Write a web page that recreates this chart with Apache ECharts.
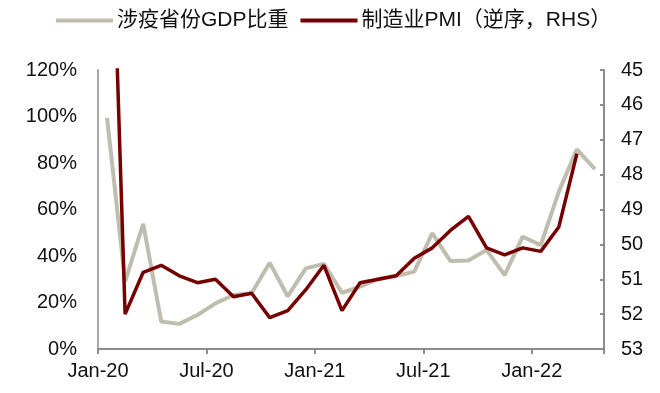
<!DOCTYPE html>
<html>
<head>
<meta charset="utf-8">
<script src="https://cdn.jsdelivr.net/npm/echarts@6/dist/echarts.min.js"></script>
<style>html,body{margin:0;padding:0;background:#fff}#c{width:660px;height:393px}</style>
</head>
<body>
<div id="c"></div>
<script>
const categories = ["Jan-20","Feb-20","Mar-20","Apr-20","May-20","Jun-20","Jul-20","Aug-20","Sep-20","Oct-20","Nov-20","Dec-20",
  "Jan-21","Feb-21","Mar-21","Apr-21","May-21","Jun-21","Jul-21","Aug-21","Sep-21","Oct-21","Nov-21","Dec-21",
  "Jan-22","Feb-22","Mar-22","Apr-22"];
const gdpShare = [99.5, 29, 53.8, 11.8, 10.8, 14.6, 19.6, 23.2, 24, 37.1, 22.6, 34.7,
  36.6, 24.2, 26.8, 30, 31.4, 33.3, 49.8, 37.8, 38.1, 42.6, 31.8, 48.3,
  44.7, 67.7, 85.9, 77.4];
const pmiInverted = [35.7, 52.0, 50.8, 50.6, 50.9, 51.1, 51.0, 51.5, 51.4, 52.1, 51.9, 51.3,
  50.6, 51.9, 51.1, 51.0, 50.9, 50.4, 50.1, 49.6, 49.2, 50.1, 50.3, 50.1,
  50.2, 49.5, 47.4, null];
const leftTicks = {min: 0, max: 120, interval: 20};
const rightTicks = {min: 45, max: 53, interval: 1};
const seriesNames = ["涉疫省份GDP比重", "制造业PMI（逆序，RHS）"];

const FONT = "'Liberation Sans', Arial, 'Noto Sans CJK SC', sans-serif";
const chart = echarts.init(document.getElementById('c'), null, {renderer: 'canvas'});
const axisColor = '#8c8c8c';
chart.setOption({
  animation: false,
  textStyle: {fontFamily: FONT},
  legend: {
    top: 5, left: 51,
    itemWidth: 57, itemHeight: 4, itemGap: 12,
    icon: 'rect',
    textStyle: {fontSize: 21, color: '#111', fontFamily: FONT, padding: [0,0,0,-1]},
    data: seriesNames
  },
  grid: {left: 98, right: 56, top: 70, bottom: 44},
  xAxis: {
    type: 'category',
    data: categories,
    boundaryGap: true,
    axisLine: {lineStyle: {color: axisColor, width: 2}},
    axisTick: {show: true, interval: 5, length: 5, lineStyle: {color: axisColor, width: 2}},
    axisLabel: {interval: 5, fontSize: 20, color: '#111', margin: 12, padding: [0, 18, 0, 0], fontFamily: FONT},
    splitLine: {show: false}
  },
  yAxis: [{
    type: 'value',
    min: leftTicks.min, max: leftTicks.max, interval: leftTicks.interval,
    axisLine: {show: true, lineStyle: {color: '#a6a6a6', width: 2}},
    axisTick: {show: false},
    splitLine: {show: false},
    axisLabel: {formatter: '{value}%', fontSize: 20, color: '#111', margin: 21, fontFamily: FONT}
  }, {
    type: 'value',
    inverse: true,
    min: rightTicks.min, max: rightTicks.max, interval: rightTicks.interval,
    position: 'right',
    axisLine: {show: true, lineStyle: {color: axisColor, width: 2}},
    axisTick: {show: true, inside: true, length: 4, lineStyle: {color: axisColor, width: 2}},
    splitLine: {show: false},
    axisLabel: {fontSize: 20, color: '#111', margin: 17, fontFamily: FONT}
  }],
  series: [{
    name: seriesNames[0],
    type: 'line',
    data: gdpShare,
    yAxisIndex: 0,
    symbol: 'none',
    lineStyle: {color: '#BFBEAE', width: 4},
    itemStyle: {color: '#BFBEAE'},
    z: 2
  }, {
    name: seriesNames[1],
    type: 'line',
    data: pmiInverted,
    yAxisIndex: 1,
    symbol: 'none',
    clip: true,
    lineStyle: {color: '#760000', width: 3.5},
    itemStyle: {color: '#760000'},
    z: 3
  }]
});
</script>
</body>
</html>
